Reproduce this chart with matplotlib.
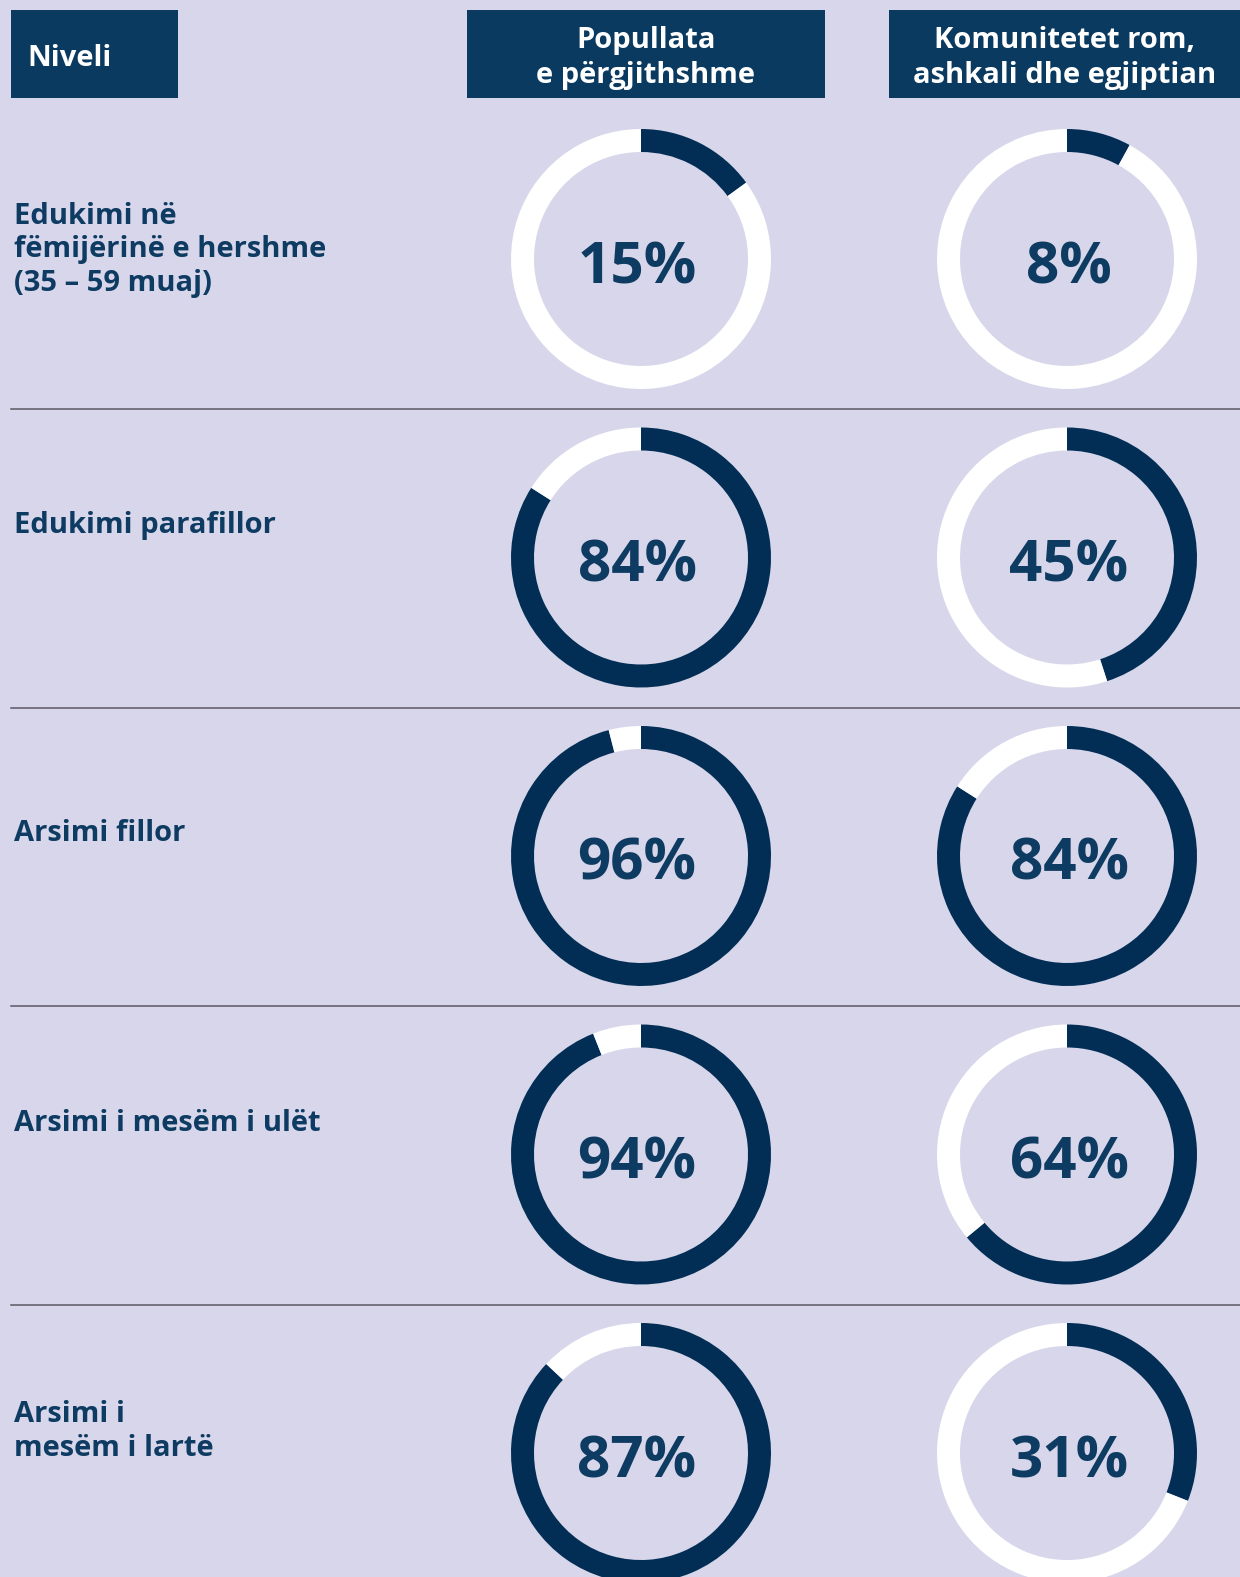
import matplotlib
matplotlib.use("Agg")
import matplotlib.pyplot as plt
from matplotlib.patches import Rectangle

# data
levels = ["Edukimi në\nfëmijërinë e hershme\n(35 – 59 muaj)",
          "Edukimi parafillor",
          "Arsimi fillor",
          "Arsimi i mesëm i ulët",
          "Arsimi i\nmesëm i lartë"]
general_pop = [15, 84, 96, 94, 87]
rae_pop = [8, 45, 84, 64, 31]
header_level = "Niveli"
header_groups = ["Popullata\ne përgjithshme",
                 "Komunitetet rom,\nashkali dhe egjiptian"]

BG = "#d8d6ea"
NAVY = "#022e55"
BOX = "#0b3a60"
TXT = "#0e3b62"
W, H = 1240, 1577
FONT = "Open Sans"

fig = plt.figure(figsize=(W / 100, H / 100), dpi=100, facecolor=BG)
ax = fig.add_axes([0, 0, 1, 1])
ax.set_facecolor(BG)


def Y(y):  # pixel row from top -> data y
    return H - y


# header boxes
boxes = [(11, 178), (467, 825), (889, 1240)]
for (x0, x1) in boxes:
    ax.add_patch(Rectangle((x0, Y(98)), x1 - x0, 88, color=BOX, lw=0))
ax.text(27, Y(66), header_level, color="white", fontsize=21, family=FONT,
        weight="bold", va="baseline", ha="left")
for (x0, x1), head in zip(boxes[1:], header_groups):
    for k, line in enumerate(head.split("\n")):
        ax.text((x0 + x1) / 2, Y(48 + 35 * k), line, color="white", fontsize=21,
                family=FONT, weight="bold", va="baseline", ha="center")

# rows
col_x = [641, 1067]
text_dx = [-4, 2]
row_y0, row_step = 259, 298.5
label_base = [-35, -24.5, -15, -23.5, -31]
R, RING = 130, 23

for i, (lab, g, r) in enumerate(zip(levels, general_pop, rae_pop)):
    cy = row_y0 + i * row_step
    for k, line in enumerate(lab.split("\n")):
        ax.text(14, Y(cy + label_base[i] + 33.5 * k), line, color=TXT, fontsize=21,
                family=FONT, weight="bold", va="baseline", ha="left")
    for cx, dx, val in zip(col_x, text_dx, (g, r)):
        ax.pie([val, 100 - val], colors=[NAVY, "white"], startangle=90,
               counterclock=False, center=(cx, Y(cy)), radius=R,
               wedgeprops=dict(width=RING, linewidth=0))
        ax.text(cx + dx, Y(cy + 24), f"{val}%", color=TXT, fontsize=42,
                family=FONT, weight="bold", va="baseline", ha="center")
    if i < len(levels) - 1:
        ax.plot([11, W], [Y(cy + 150), Y(cy + 150)], color="#5b5763", lw=1.1)

ax.set_xlim(0, W)
ax.set_ylim(0, H)
ax.set_aspect("equal")
ax.axis("off")
fig.savefig("out.png", dpi=100, facecolor=BG)
